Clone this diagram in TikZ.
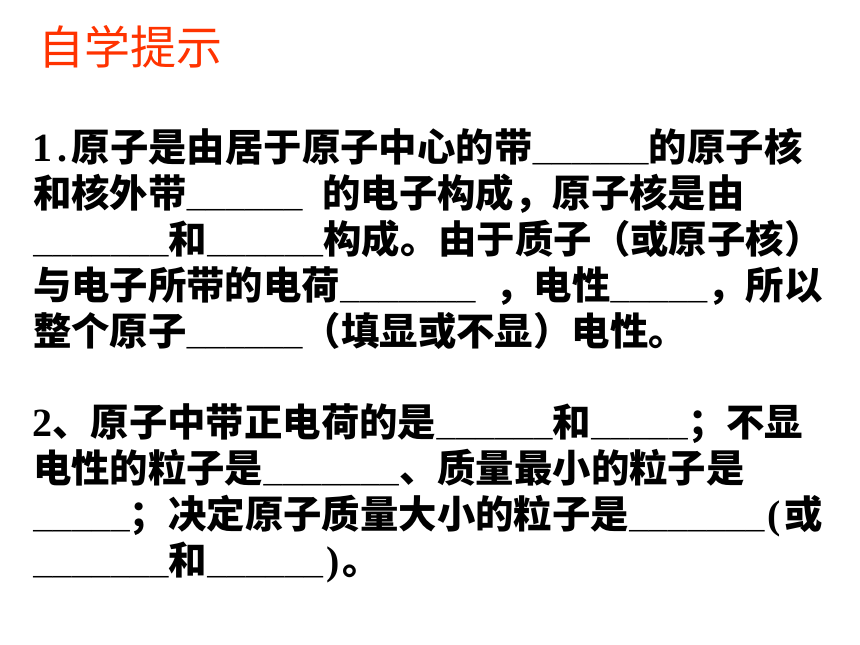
\documentclass[tikz,border=0pt]{standalone}
\usepackage{fontspec}
\setmainfont{Noto Sans CJK SC}
\newfontfamily\hwfont{Liberation Mono}
\newfontfamily\digfont{Liberation Serif}
\definecolor{titlered}{RGB}{255,51,0}
\newcommand\hw[1]{{\hwfont\bfseries\fontsize{32.3}{32.3}\selectfont #1}}
\newcommand\hd[1]{\makebox[19.4pt][c]{\digfont\fontsize{40}{40}\selectfont #1}}
\newcommand\hwsp{\hspace*{19.4pt}}
\begin{document}
\begin{tikzpicture}[x=1pt,y=-1pt,
  lineS/.style={anchor=base west,inner sep=0pt,outer sep=0pt,font=\bfseries\fontsize{38.4}{38.4}\selectfont},
  titleS/.style={anchor=base west,inner sep=0pt,outer sep=0pt,text=titlered,font=\fontsize{46}{46}\selectfont}]
\useasboundingbox[fill=white] (0,0) rectangle (860,645);
\node[titleS] (title) at (38,64) {自学提示};
\node[lineS] (a1) at (33,161) {\hd{1}\hd{.}原子是由居于原子中心的带\hw{\_\_\_\_\_\_}的原子核};
\node[lineS] (a2) at (33,207) {和核外带\hw{\_\_\_\_\_\_}\hwsp 的电子构成，原子核是由};
\node[lineS] (a3) at (33,253) {\hw{\_\_\_\_\_\_\_}和\hw{\_\_\_\_\_\_}构成。由于质子（或原子核）};
\node[lineS] (a4) at (33,299) {与电子所带的电荷\hw{\_\_\_\_\_\_\_}\hwsp ，电性\hw{\_\_\_\_\_}，所以};
\node[lineS] (a5) at (33,345) {整个原子\hw{\_\_\_\_\_\_}（填显或不显）电性。};
\node[lineS] (b1) at (33,436) {\hd{2}、原子中带正电荷的是\hw{\_\_\_\_\_\_}和\hw{\_\_\_\_\_}；不显};
\node[lineS] (b2) at (33,482) {电性的粒子是\hw{\_\_\_\_\_\_\_}、质量最小的粒子是};
\node[lineS] (b3) at (33,528) {\hw{\_\_\_\_\_}；决定原子质量大小的粒子是\hw{\_\_\_\_\_\_\_}\hd{(}或};
\node[lineS] (b4) at (33,574) {\hw{\_\_\_\_\_\_\_}和\hw{\_\_\_\_\_\_}\hd{)}。};
\end{tikzpicture}
\end{document}
